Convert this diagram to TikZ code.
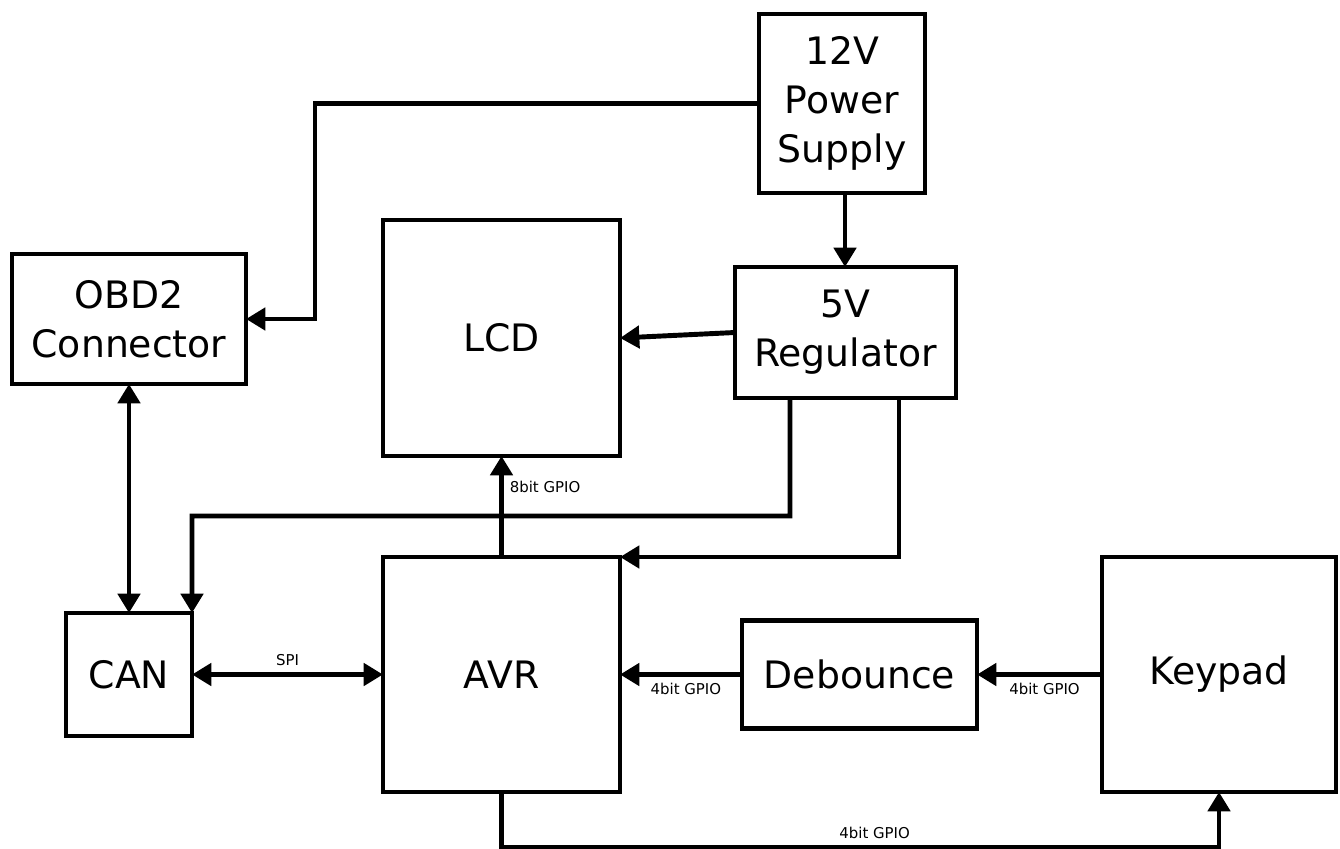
\documentclass[tikz,border=0pt]{standalone}
\usepackage{fontspec}
\setmainfont{DejaVu Sans}
\usetikzlibrary{arrows.meta}

\tikzset{
  block/.style={draw,line width=2.8pt,align=center,inner sep=0pt,outer sep=0pt,
    font=\fontsize{21.5}{28}\selectfont},
  arr/.style={line width=2.8pt,-{Triangle[length=11pt,width=12.5pt]}},
  biarr/.style={line width=2.8pt,{Triangle[length=11pt,width=12.5pt]}-{Triangle[length=11pt,width=12.5pt]}},
  lbl/.style={font=\fontsize{8.5}{10}\selectfont}
}

\begin{document}
\begin{tikzpicture}
        \useasboundingbox (0,0) rectangle (26.8,16.96);
        \draw (16.84,14.89) node[block,minimum width=3.32cm,minimum height=3.58cm] (ps) {12V\\Power\\Supply};
        \draw (2.58,10.58) node[block,minimum width=4.68cm,minimum height=2.6cm] (obd) {OBD2\\Connector};
        \draw (10.03,10.2) node[block,minimum width=4.74cm,minimum height=4.72cm] (lcd) {LCD};
        \draw (16.91,10.31) node[block,minimum width=4.42cm,minimum height=2.62cm] (reg) {5V\\Regulator};
        \draw (2.58,3.47) node[block,minimum width=2.52cm,minimum height=2.46cm] (can) {CAN};
        \draw (10.03,3.47) node[block,minimum width=4.74cm,minimum height=4.7cm] (avr) {AVR};
        \draw (17.19,3.47) node[block,minimum width=4.7cm,minimum height=2.16cm] (deb) {Debounce};
        \draw (24.38,3.47) node[block,minimum width=4.68cm,minimum height=4.7cm] (key) {Keypad};

        % power
        \draw[arr] (ps.west) -- (6.3,14.89) |- (obd.east);
        \draw[arr] (16.9,0 |- ps.south) -- (16.9,0 |- reg.north);
        \draw[arr] (reg.west) -- (lcd.east);
        \draw[arr] (reg.south -| 15.8,0) |- (3.84,6.64) -- (can.north east);
        \draw[arr] (reg.south -| 17.98,0) |- (avr.north east);

        % signals
        \draw[biarr] (obd.south) -- (can.north);
        \draw[arr] (avr.north) -- (lcd.south)
        node[lbl,right,pos=.69] {8bit GPIO};
        \draw[biarr] (can.east) -- (avr.west)
        node[lbl,above,pos=.5] {SPI};
        \draw[arr] (deb.west) -- (avr.east)
        node[lbl,below,pos=.46] {4bit GPIO};
        \draw[arr] (key.west) -- (deb.east)
        node[lbl,below,pos=.46] {4bit GPIO};
        \draw[arr] (avr.south) |- (key.south |- 0,0.02)
        node[lbl,above,pos=.76] {4bit GPIO} -- (key.south);
\end{tikzpicture}
\end{document}
